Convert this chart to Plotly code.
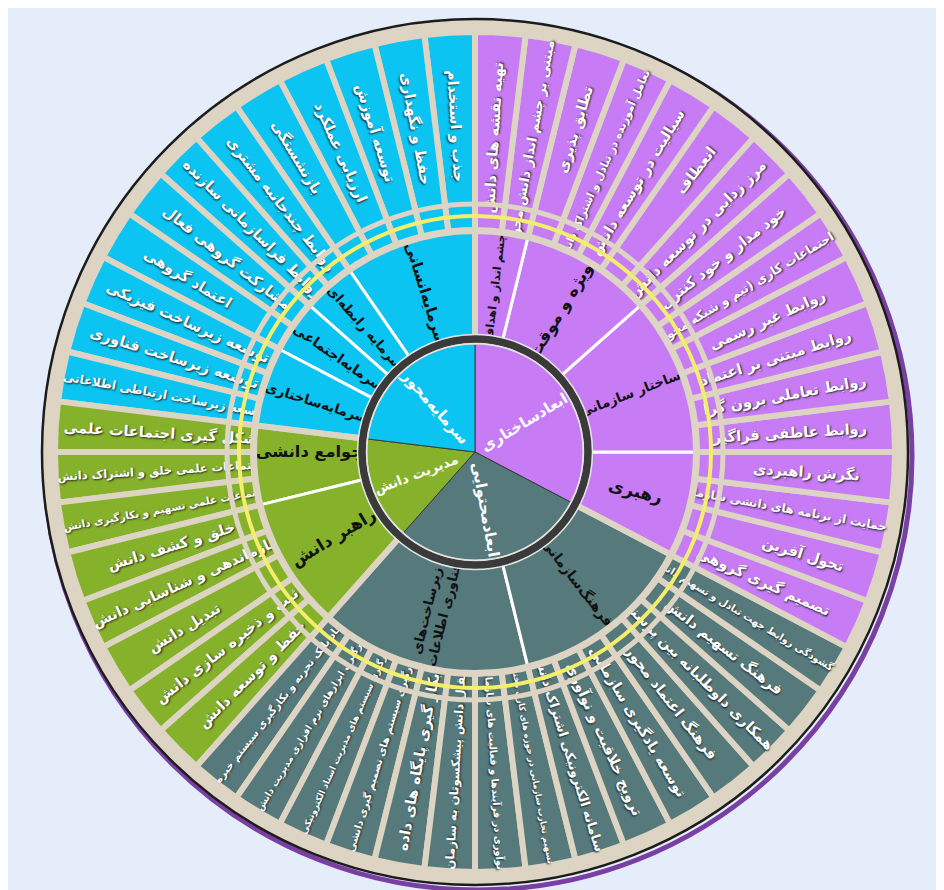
import plotly.graph_objects as go

# ---------------- data (clockwise from 12 o'clock) ----------------
dimensions = ["ابعادساختاری", "ابعادمحتوایی", "مدیریت دانش", "سرمایه‌محور"]

structural_subs = ["چشم انداز و اهداف", "ویژه و موقت", "ساختار سازمانی", "رهبری"]
vision_leaves = ["تهیه نقشه های دانش", "مبتنی بر چشم انداز دانش محور"]
adhoc_leaves = ["تطابق پذیری", "تعامل آموزنده در تبادل و اشتراک دانش",
                "سیالیت در توسعه دانش", "انعطاف", "مرز زدایی در توسعه دانش"]
orgstructure_leaves = ["خود مدار و خود کنترل", "اجتماعات کاری (تیم و شبکه محور)",
                       "روابط غیر رسمی", "روابط مبتنی بر اعتماد",
                       "روابط تعاملی برون گرا", "روابط عاطفی فراگیر"]
leadership_leaves = ["نگرش راهبردی", "حمایت از برنامه های دانشی سازمان",
                     "تحول آفرین", "تصمیم گیری گروهی"]

content_subs = ["فرهنگ‌سازمانی", "زیرساخت‌های<br>فناوری اطلاعات"]
culture_leaves = ["گشودگی روابط جهت تبادل و تسهیم دانش", "فرهنگ تسهیم دانش",
                  "همکاری داوطلبانه بین پرسنل", "فرهنگ اعتماد محور",
                  "توسعه یادگیری سازمانی", "ترویج خلاقیت و نوآوری",
                  "سامانه الکترونیکی اشتراک دانش"]
infrastructure_leaves = ["تسهیم تجارب سازمانی در حوزه های کاری مختلف",
                         "نوآوری در فرآیندها و فعالیت های سازمانی",
                         "انتقال دانش پیشکسوتان به سازمان",
                         "بکار گیری پایگاه های داده",
                         "بکارگیری سیستم های تصمیم گیری دانشی",
                         "بکارگیری سیستم های مدیریت اسناد الکترونیکی",
                         "بکارگیری ابزارهای نرم افزاری مدیریت دانش",
                         "ایجاد بانک تجربه و بکارگیری سیستم خبره"]

km_subs = ["راهبر دانش", "جوامع دانشی"]
kmleader_leaves = ["حفظ و توسعه دانش", "ثبت و ذخیره سازی دانش", "تبدیل دانش",
                   "سازماندهی و شناسایی دانش", "خلق و کشف دانش"]
community_leaves = ["اجتماعات علمی تسهیم و بکارگیری دانش",
                    "اجتماعات علمی خلق و اشتراک دانش", "شکل گیری اجتماعات علمی"]

capital_subs = ["سرمایه‌ساختاری", "سرمایه‌اجتماعی", "سرمایه رابطه‌ای", "سرمایه‌انسانی"]
structcap_leaves = ["توسعه زیرساخت ارتباطی اطلاعاتی", "توسعه زیرساخت فناوری",
                    "توسعه زیرساخت فیزیکی"]
socialcap_leaves = ["اعتماد گروهی", "مشارکت گروهی فعال"]
relcap_leaves = ["روابط فراسازمانی سازنده", "روابط چندجانبه مشتری"]
humancap_leaves = ["بازنشستگی", "ارزیابی عملکرد", "توسعه آموزش",
                   "حفظ و نگهداری", "جذب و استخدام"]

hierarchy = [
    (dimensions[0], list(zip(structural_subs,
                             [vision_leaves, adhoc_leaves, orgstructure_leaves, leadership_leaves]))),
    (dimensions[1], list(zip(content_subs, [culture_leaves, infrastructure_leaves]))),
    (dimensions[2], list(zip(km_subs, [kmleader_leaves, community_leaves]))),
    (dimensions[3], list(zip(capital_subs,
                             [structcap_leaves, socialcap_leaves, relcap_leaves, humancap_leaves]))),
]

# ---------------- style ----------------
W, H = 944, 890
CX, CY = 467, 444          # pixel centre of the wheel inside the figure
R_LEAF, R_MID, R_CORE = 420, 221, 110
dim_colors = {
    dimensions[0]: "#c77cf6",
    dimensions[1]: "#567a7c",
    dimensions[2]: "#86b12b",
    dimensions[3]: "#0bc4f1",
}
BEIGE = "#ddd4c3"
CLEAR = "rgba(0,0,0,0)"
FONT = "DejaVu Sans"


def dom(r):
    return dict(x=[(CX - r) / W, (CX + r) / W], y=[1 - (CY + r) / H, 1 - (CY - r) / H])


def circle(r, line_color, line_width, fill=CLEAR, layer="above", dx=0, dy=0):
    return dict(type="circle", xref="paper", yref="paper",
                xsizemode="pixel", ysizemode="pixel",
                xanchor=(CX + dx) / W, yanchor=1 - (CY + dy) / H,
                x0=-r, x1=r, y0=-r, y1=r, fillcolor=fill,
                line=dict(color=line_color, width=line_width), layer=layer)


# sunburst draws counter-clockwise from 12 o'clock (rotation=90) -> reverse order
a_ids, a_labels, a_parents, a_values, a_colors = ["root"], [""], [""], [0], [CLEAR]
b_ids, b_labels, b_parents, b_values, b_colors = ["root"], [""], [""], [0], [CLEAR]
c_ids, c_parents, c_values = ["root"], [""], [0]
for dim, subs in reversed(hierarchy):
    c_ids.append(dim)
    c_parents.append("root")
    c_values.append(sum(len(l) for _, l in subs))
    for sub, leaves in reversed(subs):
        b_ids.append(dim + "|" + sub)
        b_labels.append(sub)
        b_parents.append("root")
        b_values.append(len(leaves))
        b_colors.append(dim_colors[dim])
        for leaf in reversed(leaves):
            a_ids.append(dim + "|" + sub + "|" + leaf)
            a_labels.append(leaf)
            a_parents.append("root")
            a_values.append(1)
            a_colors.append(dim_colors[dim])

dim_values = [sum(len(l) for _, l in subs) for _, subs in hierarchy]

fig = go.Figure()

fig.add_trace(go.Pie(
    labels=dimensions, values=dim_values, sort=False, direction="clockwise", rotation=0,
    marker=dict(colors=[dim_colors[d] for d in dimensions], line=dict(color="#3a3a3a", width=1)),
    textinfo="label", textposition="inside", insidetextorientation="radial",
    textfont=dict(family=FONT, size=16, color="white", weight="bold"),
    domain=dom(R_CORE), showlegend=False, hoverinfo="label",
))

fig.add_trace(go.Sunburst(
    ids=a_ids, labels=a_labels, parents=a_parents, values=a_values,
    branchvalues="remainder", sort=False, rotation=90,
    marker=dict(colors=a_colors, line=dict(color=BEIGE, width=6)),
    leaf=dict(opacity=1), textinfo="label", insidetextorientation="radial",
    textfont=dict(family=FONT, size=14.5, color="white", weight="bold",
                  shadow="1px 1px 2px #222"),
    domain=dom(R_LEAF), hoverinfo="label",
))

fig.add_trace(go.Sunburst(
    ids=b_ids, labels=b_labels, parents=b_parents, values=b_values,
    branchvalues="remainder", sort=False, rotation=90,
    marker=dict(colors=b_colors, line=dict(color="white", width=3)),
    leaf=dict(opacity=1), textinfo="label", insidetextorientation="radial",
    textfont=dict(family=FONT, size=17, color="#111111", weight="bold"),
    domain=dom(R_MID), hoverinfo="label",
))

# beige separators between the four dimensions in the middle ring
fig.add_trace(go.Sunburst(
    ids=c_ids, labels=[""] * len(c_ids), parents=c_parents, values=c_values,
    branchvalues="remainder", sort=False, rotation=90,
    marker=dict(colors=[CLEAR] * len(c_ids),
                line=dict(color=[CLEAR] + [BEIGE] * (len(c_ids) - 1), width=6)),
    leaf=dict(opacity=1), textinfo="none", hoverinfo="skip",
    domain=dom(R_MID),
))

shapes = [
    circle(434, "#7a3fa3", 5, layer="below", dx=3, dy=4),
    circle(433, "#1c1c1c", 2.5, fill=BEIGE, layer="below"),
    circle(R_MID + 1, BEIGE, 6),
    circle(236, "#f3ee6c", 4),
    circle(248, BEIGE, 5),
    circle(R_CORE + 3, "#3a3a3a", 8),
    circle(R_CORE - 1.5, "#e4e4e4", 1.5),
    circle(R_CORE + 7.5, "#e4e4e4", 1.5),
]

fig.update_layout(
    width=W, height=H, margin=dict(l=0, r=0, t=0, b=0),
    paper_bgcolor="#e4edf9", plot_bgcolor="#e4edf9",
    showlegend=False, shapes=shapes,
)

fig.write_html("out.html")
